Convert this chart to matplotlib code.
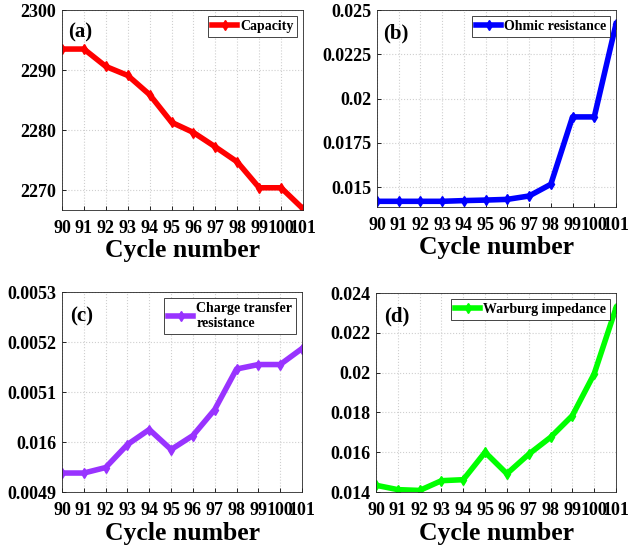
import matplotlib
matplotlib.use('Agg')
import matplotlib.pyplot as plt

plt.rcParams['font.family'] = 'Liberation Serif'
plt.rcParams['font.weight'] = 'bold'

cycles = [90, 91, 92, 93, 94, 95, 96, 97, 98, 99, 100, 101]

capacity = [2293.5, 2293.5, 2290.6, 2289.1, 2285.9, 2281.3, 2279.6, 2277.2,
            2274.7, 2270.4, 2270.4, 2266.9]
ohmic = [0.01421, 0.01421, 0.01421, 0.01421, 0.01425, 0.01428, 0.01432,
         0.01451, 0.01517, 0.01897, 0.01897, 0.02421]
charge_transfer = [0.004938, 0.004938, 0.004949, 0.004995, 0.005025, 0.004985,
                   0.005013, 0.005065, 0.005146, 0.005155, 0.005155, 0.005187]
warburg = [0.01434, 0.01412, 0.01408, 0.01457, 0.01462, 0.0160, 0.01492,
           0.0159, 0.01675, 0.01784, 0.01994, 0.02325]

# odd tick labels on panel (c) are kept as they appear in the figure
c_ticks = [0.0049, 0.0050, 0.0051, 0.0052, 0.0053]
c_ticklabels = ['0.0049', '0.016', '0.0051', '0.0052', '0.0053']


def style_axes(ax, tag, tag_x, tag_y):
    ax.set_xlim(90, 101)
    ax.set_xticks(cycles)
    ax.set_xticklabels([str(c) for c in cycles])
    ax.tick_params(direction='in', labelsize=13, length=3, width=0.6)
    ax.tick_params(axis='x', pad=7)
    ax.tick_params(axis='y', pad=4)
    for lab in ax.get_xticklabels() + ax.get_yticklabels():
        lab.set_fontweight('bold')
    ax.grid(True, color='#cfcfcf', linestyle=':', linewidth=0.8)
    for sp in ax.spines.values():
        sp.set_color('#262626')
        sp.set_linewidth(0.6)
    ax.set_xlabel('Cycle number', fontsize=18.5, fontweight='bold', labelpad=2)
    ax.text(tag_x, tag_y, tag, transform=ax.transAxes, fontsize=15,
            fontweight='bold', va='center', ha='left')
    leg = ax.legend(loc='upper right', fontsize=10, handlelength=1.8,
                    handletextpad=0.2, borderpad=0.3, fancybox=False,
                    framealpha=1, borderaxespad=0.4)
    leg.get_frame().set_edgecolor('#262626')
    leg.get_frame().set_linewidth(0.6)
    for t in leg.get_texts():
        t.set_fontweight('bold')


fig = plt.figure(figsize=(6.42, 5.47), dpi=100)

ax1 = fig.add_axes([0.0966, 0.6161, 0.3754, 0.3656])
ax1.plot(cycles, capacity, color='#ff0000', lw=4, marker='d', ms=5,
         label='Capacity')
ax1.set_ylim(2266.7, 2300)
ax1.set_yticks([2270, 2280, 2290, 2300])
style_axes(ax1, '(a)', 0.025, 0.89)

ax2 = fig.add_axes([0.5872, 0.6216, 0.3723, 0.3601])
ax2.plot(cycles, ohmic, color='#0000ff', lw=4, marker='d', ms=5,
         label='Ohmic resistance')
ax2.set_ylim(0.01389, 0.025)
ax2.set_yticks([0.015, 0.0175, 0.02, 0.0225, 0.025])
ax2.set_yticklabels(['0.015', '0.0175', '0.02', '0.0225', '0.025'])
style_axes(ax2, '(b)', 0.025, 0.88)

ax3 = fig.add_axes([0.0966, 0.1005, 0.3738, 0.3656])
ax3.plot(cycles, charge_transfer, color='#9933ff', lw=4, marker='d', ms=5,
         label='Charge transfer\nresistance')
ax3.set_ylim(0.0049, 0.0053)
ax3.set_yticks(c_ticks)
ax3.set_yticklabels(c_ticklabels)
style_axes(ax3, '(c)', 0.033, 0.88)

ax4 = fig.add_axes([0.5857, 0.1005, 0.3738, 0.3638])
ax4.plot(cycles, warburg, color='#00ff00', lw=4, marker='d', ms=5,
         label='Warburg impedance')
ax4.set_ylim(0.014, 0.024)
ax4.set_yticks([0.014, 0.016, 0.018, 0.02, 0.022, 0.024])
ax4.set_yticklabels(['0.014', '0.016', '0.018', '0.02', '0.022', '0.024'])
style_axes(ax4, '(d)', 0.033, 0.88)

fig.savefig('out.png', dpi=100)
